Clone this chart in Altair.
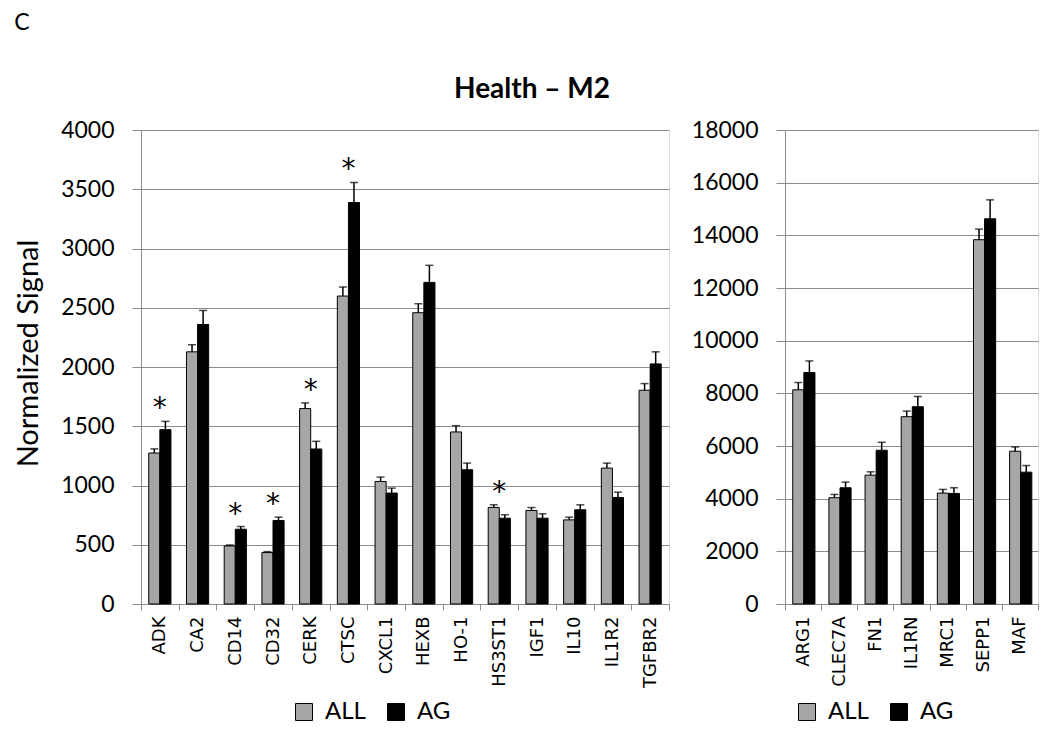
import altair as alt
import pandas as pd

# ---- data ----
left_genes = ["ADK", "CA2", "CD14", "CD32", "CERK", "CTSC", "CXCL1", "HEXB",
              "HO-1", "HS3ST1", "IGF1", "IL10", "IL1R2", "TGFBR2"]
left_all = [1274, 2128, 490, 434, 1649, 2599, 1034, 2458, 1452, 815, 789, 710, 1147, 1804]
left_all_err = [35, 60, 8, 8, 48, 76, 37, 76, 53, 22, 25, 23, 42, 56]
left_ag = [1471, 2359, 631, 705, 1308, 3388, 936, 2714, 1133, 724, 724, 795, 899, 2026]
left_ag_err = [70, 118, 23, 28, 65, 169, 42, 144, 56, 29, 37, 42, 45, 102]
left_sig = ["ADK", "CD14", "CD32", "CERK", "CTSC", "HS3ST1"]

right_genes = ["ARG1", "CLEC7A", "FN1", "IL1RN", "MRC1", "SEPP1", "MAF"]
right_all = [8134, 4035, 4893, 7112, 4212, 13834, 5801]
right_all_err = [277, 126, 126, 215, 139, 403, 164]
right_ag = [8790, 4414, 5839, 7491, 4199, 14628, 5006]
right_ag_err = [441, 214, 302, 390, 215, 719, 253]
right_sig = []

groups = ["ALL", "AG"]
colors = ["#a6a6a6", "#000000"]

GRID = "#8c8c8c"
FONT = "Lato"


def make_df(genes, a, ae, b, be):
    rows = []
    for g, v1, e1, v2, e2 in zip(genes, a, ae, b, be):
        rows.append({"gene": g, "group": "ALL", "value": v1, "err": e1})
        rows.append({"gene": g, "group": "AG", "value": v2, "err": e2})
    df = pd.DataFrame(rows)
    df["top"] = df["value"] + df["err"]
    return df


def panel(genes, a, ae, b, be, sig, ymax, step, width, ytitle, legend_x, title_text, title_dx):
    df = make_df(genes, a, ae, b, be)
    x = alt.X("gene:N", sort=genes,
              scale=alt.Scale(paddingInner=0, paddingOuter=0),
              axis=alt.Axis(title=None, labelAngle=-90, tickBand="extent",
                            labelFont="DejaVu Sans", labelFontSize=18, labelColor="#000000",
                            labelPadding=6, tickSize=6, tickColor=GRID, domainColor=GRID,
                            grid=False, labelBaseline="middle", labelAlign="right"))
    xoff = alt.XOffset("group:N", sort=groups,
                       scale=alt.Scale(domain=groups, paddingInner=0, paddingOuter=0.7))
    yaxis_kwargs = dict(values=list(range(0, ymax + 1, step)), format="d", grid=True,
                        gridColor=GRID, domainColor=GRID, tickColor=GRID, tickSize=9,
                        labelPadding=18, labelFont=FONT, labelFontSize=23,
                        labelColor="#000000")
    if ytitle:
        yaxis = alt.Axis(title=ytitle, titleFont=FONT, titleFontSize=29, titleFontWeight="normal",
                         titleColor="#000000", titlePadding=17, titleY=223, **yaxis_kwargs)
    else:
        yaxis = alt.Axis(title=None, **yaxis_kwargs)
    yscale = alt.Scale(domain=[0, ymax], nice=False)

    color = alt.Color("group:N", sort=groups,
                      scale=alt.Scale(domain=groups, range=colors),
                      legend=alt.Legend(title=None, orient="none", direction="horizontal",
                                        legendX=legend_x, legendY=570, padding=0,
                                        symbolType="square", symbolSize=289,
                                        symbolStrokeColor="#000000", symbolStrokeWidth=1,
                                        labelFont=FONT, labelFontSize=24, labelColor="#000000",
                                        labelOffset=9, columnPadding=18))

    bars = alt.Chart(df).mark_bar(stroke="#000000", strokeWidth=1).encode(
        x=x, xOffset=xoff, y=alt.Y("value:Q", scale=yscale, axis=yaxis), color=color)
    err = alt.Chart(df).mark_rule(color="#000000", strokeWidth=1.5).encode(
        x=x, xOffset=xoff, y=alt.Y("value:Q", scale=yscale, axis=yaxis), y2="top:Q")
    caps = alt.Chart(df).mark_tick(color="#000000", thickness=1.5, size=8, orient="horizontal").encode(
        x=x, xOffset=xoff, y=alt.Y("top:Q", scale=yscale, axis=yaxis))
    layers = [bars, err, caps]
    if sig:
        sdf = df[df["gene"].isin(sig)].groupby("gene", as_index=False)["top"].max()
        stars = alt.Chart(sdf).mark_text(text="*", font="DejaVu Sans", fontSize=28,
                                         baseline="alphabetic", dy=-4, color="#000000").encode(
            x=x, y=alt.Y("top:Q", scale=yscale, axis=yaxis))
        layers.append(stars)
    return alt.layer(*layers).properties(
        width=width, height=474,
        title=alt.TitleParams(title_text, font=FONT, fontSize=28, fontWeight="bold",
                              color="#000000", anchor="middle", frame="group",
                              dx=title_dx, offset=15))


left = panel(left_genes, left_all, left_all_err, left_ag, left_ag_err, left_sig,
             4000, 500, 528, "Normalized Signal", 151, "Health \u2013 M2", 127)
right = panel(right_genes, right_all, right_all_err, right_ag, right_ag_err, right_sig,
              18000, 2000, 253, None, 10, " ", 0)

chart = alt.hconcat(left, right, spacing=20).resolve_scale(
    color="independent", x="independent", y="independent"
).resolve_legend(color="independent").properties(
    title=alt.TitleParams("C", font=FONT, fontSize=23, fontWeight="normal", color="#000000",
                          anchor="start", offset=41),
    padding={"left": 6, "top": 3, "right": 0, "bottom": 0},
).configure_view(stroke=None).configure(background="#ffffff")

chart.save("out.html", embed_options={"renderer": "svg", "actions": False})
